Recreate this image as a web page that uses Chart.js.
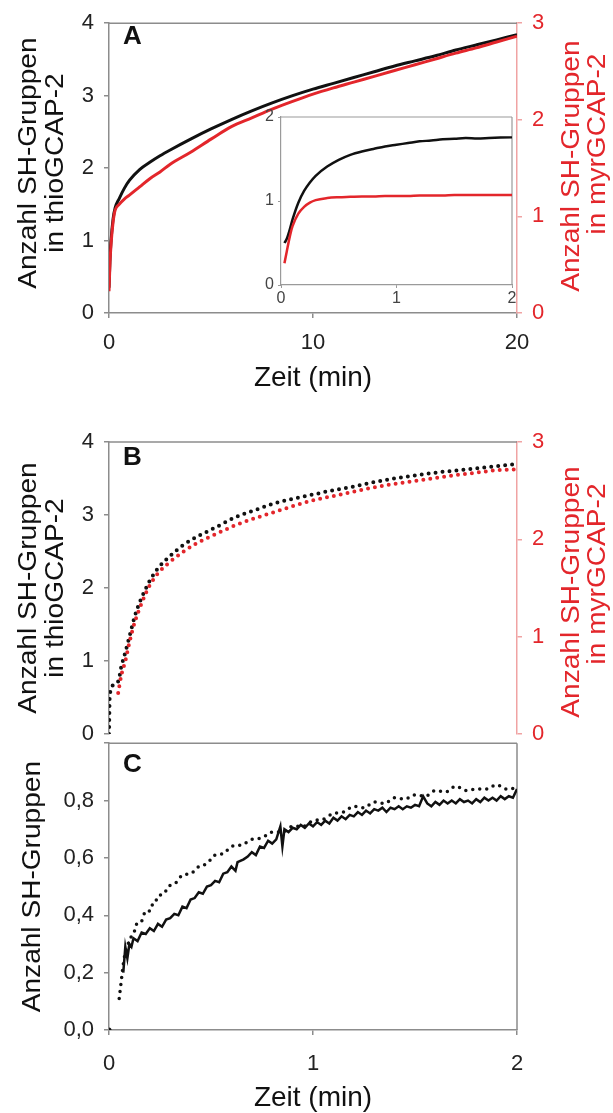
<!DOCTYPE html>
<html>
<head>
<meta charset="utf-8">
<script src="https://cdn.jsdelivr.net/npm/chart.js@4.4.0/dist/chart.umd.min.js"></script>
<style>
  html, body { margin: 0; padding: 0; background: #fff; }
  #wrap { position: relative; width: 613px; height: 1113px; background: #fff; overflow: hidden; }
  #wrap canvas { position: absolute; }
</style>
</head>
<body>
<div id="wrap">
  <canvas id="chartA" width="613" height="400" style="left:0;top:0"></canvas>
  <canvas id="chartInset" width="290" height="215" style="left:240px;top:100px"></canvas>
  <canvas id="chartB" width="613" height="360" style="left:0;top:400px"></canvas>
  <canvas id="chartC" width="613" height="393" style="left:0;top:720px"></canvas>
</div>
<script>
// ---- panel A: 20 min kinetics, thio (left axis) vs myr (right axis)
const timeA = [0, 0.05, 0.1, 0.2, 0.3, 0.5, 0.75, 1, 1.5, 2, 2.5, 3, 4, 5, 6, 7, 8, 9, 10, 11, 12, 13, 14, 15, 16, 17, 18, 19, 20];
const thioA = [0.35, 0.75, 1.0, 1.3, 1.45, 1.58, 1.72, 1.83, 1.98, 2.08, 2.17, 2.25, 2.40, 2.54, 2.67, 2.79, 2.90, 3.00, 3.09, 3.17, 3.25, 3.33, 3.41, 3.48, 3.55, 3.63, 3.70, 3.77, 3.84];
const myrA  = [0.225, 0.525, 0.71, 0.94, 1.065, 1.125, 1.18, 1.22, 1.305, 1.39, 1.46, 1.54, 1.665, 1.80, 1.93, 2.02, 2.11, 2.19, 2.265, 2.33, 2.39, 2.45, 2.51, 2.57, 2.63, 2.69, 2.745, 2.805, 2.865];

// ---- inset: first 2 min
const timeInset = [0.03, 0.05, 0.08, 0.1, 0.15, 0.2, 0.25, 0.3, 0.4, 0.5, 0.6, 0.7, 0.8, 0.9, 1.0, 1.1, 1.2, 1.3, 1.4, 1.5, 1.6, 1.7, 1.8, 1.9, 2.0];
const thioInset = [0.5, 0.55, 0.68, 0.78, 0.98, 1.12, 1.22, 1.30, 1.41, 1.49, 1.55, 1.59, 1.62, 1.65, 1.67, 1.69, 1.71, 1.72, 1.735, 1.74, 1.75, 1.745, 1.75, 1.755, 1.76];
const myrInset  = [0.26, 0.40, 0.60, 0.70, 0.85, 0.93, 0.98, 1.01, 1.035, 1.045, 1.05, 1.055, 1.055, 1.06, 1.06, 1.06, 1.065, 1.065, 1.065, 1.07, 1.07, 1.07, 1.07, 1.07, 1.07];

// ---- panel B
const timeThioB = [0, 0.004, 0.045, 0.06, 0.08, 0.1, 0.125, 0.15, 0.175, 0.2, 0.24, 0.3, 0.37, 0.43, 0.53, 0.62, 0.72, 0.81, 0.9, 1.0, 1.1, 1.2, 1.3, 1.4, 1.5, 1.6, 1.7, 1.8, 1.9, 2.0];
const thioB = [0.0, 0.55, 0.72, 0.92, 1.12, 1.33, 1.6, 1.8, 1.96, 2.1, 2.27, 2.44, 2.6, 2.7, 2.84, 2.97, 3.07, 3.16, 3.22, 3.28, 3.34, 3.39, 3.45, 3.5, 3.54, 3.58, 3.61, 3.64, 3.67, 3.7];
const timeMyrB = [0.045, 0.06, 0.08, 0.1, 0.125, 0.15, 0.175, 0.2, 0.24, 0.3, 0.37, 0.43, 0.53, 0.62, 0.72, 0.81, 0.9, 1.0, 1.1, 1.2, 1.3, 1.4, 1.5, 1.6, 1.7, 1.8, 1.9, 2.0];
const myrB = [0.42, 0.6, 0.75, 0.94, 1.14, 1.29, 1.42, 1.53, 1.65, 1.77, 1.88, 1.96, 2.06, 2.145, 2.22, 2.28, 2.34, 2.4, 2.445, 2.49, 2.535, 2.57, 2.6, 2.63, 2.66, 2.685, 2.71, 2.72];

// ---- panel C: noisy solid trace and dotted trace
const timeSolidC = [0.07, 0.08, 0.09, 0.10, 0.11, 0.12, 0.14, 0.16, 0.18, 0.20, 0.22, 0.24, 0.26, 0.28, 0.30, 0.32, 0.34, 0.36, 0.38, 0.40,
  0.42, 0.44, 0.46, 0.48, 0.50, 0.52, 0.54, 0.56, 0.58, 0.60, 0.62, 0.63, 0.66, 0.68, 0.70, 0.72, 0.74, 0.76, 0.78, 0.80,
  0.82, 0.84, 0.85, 0.86, 0.88, 0.90, 0.92, 0.94, 0.96, 0.98, 1.00, 1.02, 1.04, 1.06, 1.08, 1.10, 1.12, 1.14, 1.16, 1.18,
  1.20, 1.22, 1.24, 1.26, 1.28, 1.30, 1.32, 1.34, 1.36, 1.38, 1.40, 1.42, 1.44, 1.46, 1.48, 1.50, 1.52, 1.54, 1.56, 1.58,
  1.60, 1.62, 1.64, 1.66, 1.68, 1.70, 1.72, 1.74, 1.76, 1.78, 1.80, 1.82, 1.84, 1.86, 1.88, 1.90, 1.92, 1.94, 1.96, 1.98, 2.00];
const solidC = [0.20, 0.29, 0.25, 0.30, 0.29, 0.32, 0.31, 0.34, 0.335, 0.355, 0.345, 0.37, 0.36, 0.385, 0.39, 0.405, 0.40, 0.43, 0.425, 0.455,
  0.46, 0.48, 0.475, 0.50, 0.505, 0.52, 0.515, 0.545, 0.55, 0.57, 0.555, 0.585, 0.595, 0.605, 0.62, 0.61, 0.64, 0.635, 0.66, 0.65,
  0.665, 0.71, 0.64, 0.70, 0.69, 0.705, 0.70, 0.715, 0.705, 0.72, 0.71, 0.725, 0.715, 0.73, 0.72, 0.74, 0.73, 0.745, 0.735, 0.75,
  0.745, 0.76, 0.75, 0.765, 0.755, 0.77, 0.765, 0.775, 0.76, 0.775, 0.77, 0.78, 0.77, 0.78, 0.775, 0.785, 0.78, 0.815, 0.79, 0.78,
  0.795, 0.785, 0.80, 0.79, 0.80, 0.79, 0.805, 0.795, 0.80, 0.79, 0.805, 0.795, 0.81, 0.80, 0.81, 0.80, 0.815, 0.805, 0.815, 0.81, 0.84];
const timeDotC = [0.05, 0.055, 0.06, 0.065, 0.07, 0.08, 0.09, 0.1, 0.12, 0.14, 0.16, 0.18, 0.2, 0.22, 0.24, 0.26, 0.28, 0.3, 0.33, 0.36, 0.4, 0.44, 0.48, 0.52, 0.56, 0.6, 0.65, 0.7, 0.75, 0.8, 0.85, 0.9, 0.95, 1.0, 1.05, 1.1, 1.15, 1.2, 1.25, 1.3, 1.35, 1.4, 1.45, 1.5, 1.55, 1.6, 1.65, 1.7, 1.75, 1.8, 1.85, 1.9, 1.95, 2.0];
const dotC = [0.11, 0.14, 0.17, 0.2, 0.23, 0.27, 0.29, 0.315, 0.335, 0.375, 0.38, 0.415, 0.415, 0.45, 0.455, 0.48, 0.485, 0.505, 0.515, 0.54, 0.545, 0.57, 0.58, 0.61, 0.615, 0.64, 0.645, 0.665, 0.67, 0.69, 0.69, 0.71, 0.71, 0.73, 0.735, 0.755, 0.76, 0.78, 0.775, 0.795, 0.79, 0.81, 0.805, 0.82, 0.815, 0.835, 0.83, 0.85, 0.835, 0.84, 0.84, 0.855, 0.84, 0.845];
const originC = [0];

const BLACK = '#111111';
const RED = '#e3262b';
const RED_AXIS = '#f0a3a3';
const GREY = '#8c8c8c';
const FONT = '"Liberation Sans", Arial, sans-serif';

Chart.defaults.font.family = FONT;
Chart.defaults.animation = false;
Chart.defaults.plugins.legend.display = false;
Chart.defaults.plugins.tooltip.enabled = false;
Chart.defaults.elements.point.radius = 0;

const pts = (xs, ys) => xs.map((x, i) => ({x: x, y: ys[i]}));

// outer box lines (top / right) that the axes don't draw
const frameBox = {
  id: 'frameBox',
  beforeDatasetsDraw(chart, args, opts) {
    const {ctx, chartArea: a} = chart;
    ctx.save();
    ctx.strokeStyle = opts.color || GREY;
    ctx.lineWidth = opts.width || 1.5;
    ctx.beginPath();
    if (opts.top) { ctx.moveTo(a.left, a.top); ctx.lineTo(a.right, a.top); }
    if (opts.right) { ctx.moveTo(a.right, a.top); ctx.lineTo(a.right, a.bottom); }
    ctx.stroke();
    ctx.restore();
  }
};

// axis titles and panel letters, placed relative to the chart area
const sideText = {
  id: 'sideText',
  afterDraw(chart, args, opts) {
    const {ctx, chartArea: a} = chart;
    (opts.items || []).forEach(t => {
      const x = (t.ax === 'left' ? a.left : t.ax === 'right' ? a.right : (a.left + a.right) / 2) + (t.dx || 0);
      const y = (t.ay === 'top' ? a.top : t.ay === 'bottom' ? a.bottom : (a.top + a.bottom) / 2) + (t.dy || 0);
      ctx.save();
      ctx.translate(x, y);
      if (t.rot) ctx.rotate(t.rot);
      if (t.sx) ctx.scale(t.sx, 1);
      ctx.font = t.font;
      ctx.fillStyle = t.color || BLACK;
      ctx.textAlign = t.align || 'center';
      ctx.textBaseline = 'middle';
      ctx.fillText(t.text, 0, 0);
      ctx.restore();
    });
  }
};

const TITLE = '28px ' + FONT;
const VTITLE = '26px ' + FONT;
const STRETCH = 1.08;
const LETTER = 'bold 26px ' + FONT;
const UP = -Math.PI / 2;

function vTitle(text, side, dx, dy, color) {
  return { text: text, ax: side, dx: dx, ay: 'mid', dy: dy, rot: UP, sx: STRETCH, font: VTITLE, color: color };
}

function yAxis(min, max, step, color, line, width, extra) {
  return Object.assign({
    type: 'linear', min: min, max: max,
    ticks: { stepSize: step, color: color, font: { size: 22 }, padding: 10 },
    grid: { drawOnChartArea: false, tickLength: 5, color: line, lineWidth: 1.5 },
    border: { color: line, width: 1.5 },
    afterFit: s => { s.width = width; }
  }, extra || {});
}

function xAxis(min, max, step, height, pad) {
  return {
    type: 'linear', min: min, max: max,
    ticks: { stepSize: step, color: '#222', font: { size: 22 }, padding: pad },
    grid: { drawOnChartArea: false, tickLength: 5, color: GREY, lineWidth: 1.5 },
    border: { color: GREY, width: 1.5 },
    afterFit: s => { s.height = height; }
  };
}

function solid(data, color, w, axis, smooth) {
  return { data: data, borderColor: color, borderWidth: w, yAxisID: axis || 'y',
           cubicInterpolationMode: smooth === false ? 'default' : 'monotone', tension: 0, fill: false };
}

function dotted(data, color, w, gap, axis) {
  return { data: data, borderColor: color, borderWidth: w, yAxisID: axis || 'y',
           borderDash: [0, gap], borderCapStyle: 'round', cubicInterpolationMode: 'monotone', fill: false };
}

// panel A
new Chart(document.getElementById('chartA'), {
  type: 'line',
  data: { datasets: [
    solid(pts(timeA, myrA), RED, 3, 'y1'),
    solid(pts(timeA, thioA), BLACK, 3)
  ] },
  options: {
    responsive: false,
    layout: { padding: { top: 20 } },
    scales: {
      x: xAxis(0, 20, 10, 87, 12),
      y: yAxis(0, 4, 1, '#222', GREY, 109),
      y1: yAxis(0, 3, 1, RED, RED_AXIS, 96, { position: 'right' })
    },
    plugins: {
      frameBox: { top: true },
      sideText: { items: [
        vTitle('Anzahl SH-Gruppen', 'left', -80, -5),
        vTitle('in thioGCAP-2', 'left', -53, -5),
        vTitle('Anzahl SH-Gruppen', 'right', 55, -2, RED),
        vTitle('in myrGCAP-2', 'right', 81, -24, RED),
        { text: 'Zeit (min)', ax: 'center', ay: 'bottom', dy: 65, font: TITLE },
        { text: 'A', ax: 'left', dx: 14, ay: 'top', dy: 14, font: LETTER, align: 'left' }
      ] }
    }
  },
  plugins: [frameBox, sideText]
});

// inset of panel A
new Chart(document.getElementById('chartInset'), {
  type: 'line',
  data: { datasets: [
    solid(pts(timeInset, myrInset), RED, 2.5),
    solid(pts(timeInset, thioInset), BLACK, 2.5)
  ] },
  options: {
    responsive: false,
    layout: { padding: { top: 17, right: 18 } },
    scales: {
      x: {
        type: 'linear', min: 0, max: 2,
        ticks: { stepSize: 1, color: '#444', font: { size: 16 }, padding: 1 },
        grid: { drawOnChartArea: false, tickLength: 3, color: '#9a9a9a' },
        border: { color: '#9a9a9a', width: 1.2 },
        afterFit: s => { s.height = 30; }
      },
      y: {
        type: 'linear', min: 0, max: 2,
        ticks: { stepSize: 1, color: '#444', font: { size: 16 }, padding: 4 },
        grid: { drawOnChartArea: false, tickLength: 3, color: '#9a9a9a' },
        border: { color: '#9a9a9a', width: 1.2 },
        afterFit: s => { s.width = 41; }
      }
    },
    plugins: { frameBox: { top: true, right: true, color: '#9a9a9a', width: 1.2 } }
  },
  plugins: [frameBox]
});

// panel B
new Chart(document.getElementById('chartB'), {
  type: 'line',
  data: { datasets: [
    dotted(pts(timeMyrB, myrB), RED, 4, 7, 'y1'),
    dotted(pts(timeThioB, thioB), BLACK, 4, 7)
  ] },
  options: {
    responsive: false,
    layout: { padding: { top: 42, bottom: 26 } },
    scales: {
      x: { type: 'linear', min: 0, max: 2, display: false },
      y: yAxis(0, 4, 1, '#222', GREY, 109),
      y1: yAxis(0, 3, 1, RED, RED_AXIS, 96, { position: 'right' })
    },
    plugins: {
      frameBox: { top: true },
      sideText: { items: [
        vTitle('Anzahl SH-Gruppen', 'left', -80, 0),
        vTitle('in thioGCAP-2', 'left', -53, 0),
        vTitle('Anzahl SH-Gruppen', 'right', 55, 4, RED),
        vTitle('in myrGCAP-2', 'right', 81, -14, RED),
        { text: 'B', ax: 'left', dx: 14, ay: 'top', dy: 16, font: LETTER, align: 'left' }
      ] }
    }
  },
  plugins: [frameBox, sideText]
});

// panel C
new Chart(document.getElementById('chartC'), {
  type: 'line',
  data: { datasets: [
    solid(pts(timeSolidC, solidC), BLACK, 2.5, 'y', false),
    dotted(pts(timeDotC, dotC), BLACK, 3.5, 7),
    { data: pts(originC, originC), showLine: false, pointRadius: 2.5, pointBackgroundColor: BLACK, pointBorderWidth: 0 }
  ] },
  options: {
    responsive: false,
    layout: { padding: { top: 14, right: 96 } },
    scales: {
      x: xAxis(0, 2, 1, 83, 16),
      y: yAxis(0, 1, 0.2, '#222', GREY, 109, {
        ticks: { stepSize: 0.2, color: '#222', font: { size: 22 }, padding: 10,
                 callback: v => v > 0.95 ? '' : v.toFixed(1).replace('.', ',') }
      })
    },
    plugins: {
      frameBox: { top: true, right: true },
      sideText: { items: [
        vTitle('Anzahl SH-Gruppen', 'left', -76, 0),
        { text: 'Zeit (min)', ax: 'center', ay: 'bottom', dy: 68, font: TITLE },
        { text: 'C', ax: 'left', dx: 14, ay: 'top', dy: 22, font: LETTER, align: 'left' }
      ] }
    }
  },
  plugins: [frameBox, sideText]
});
</script>
</body>
</html>
